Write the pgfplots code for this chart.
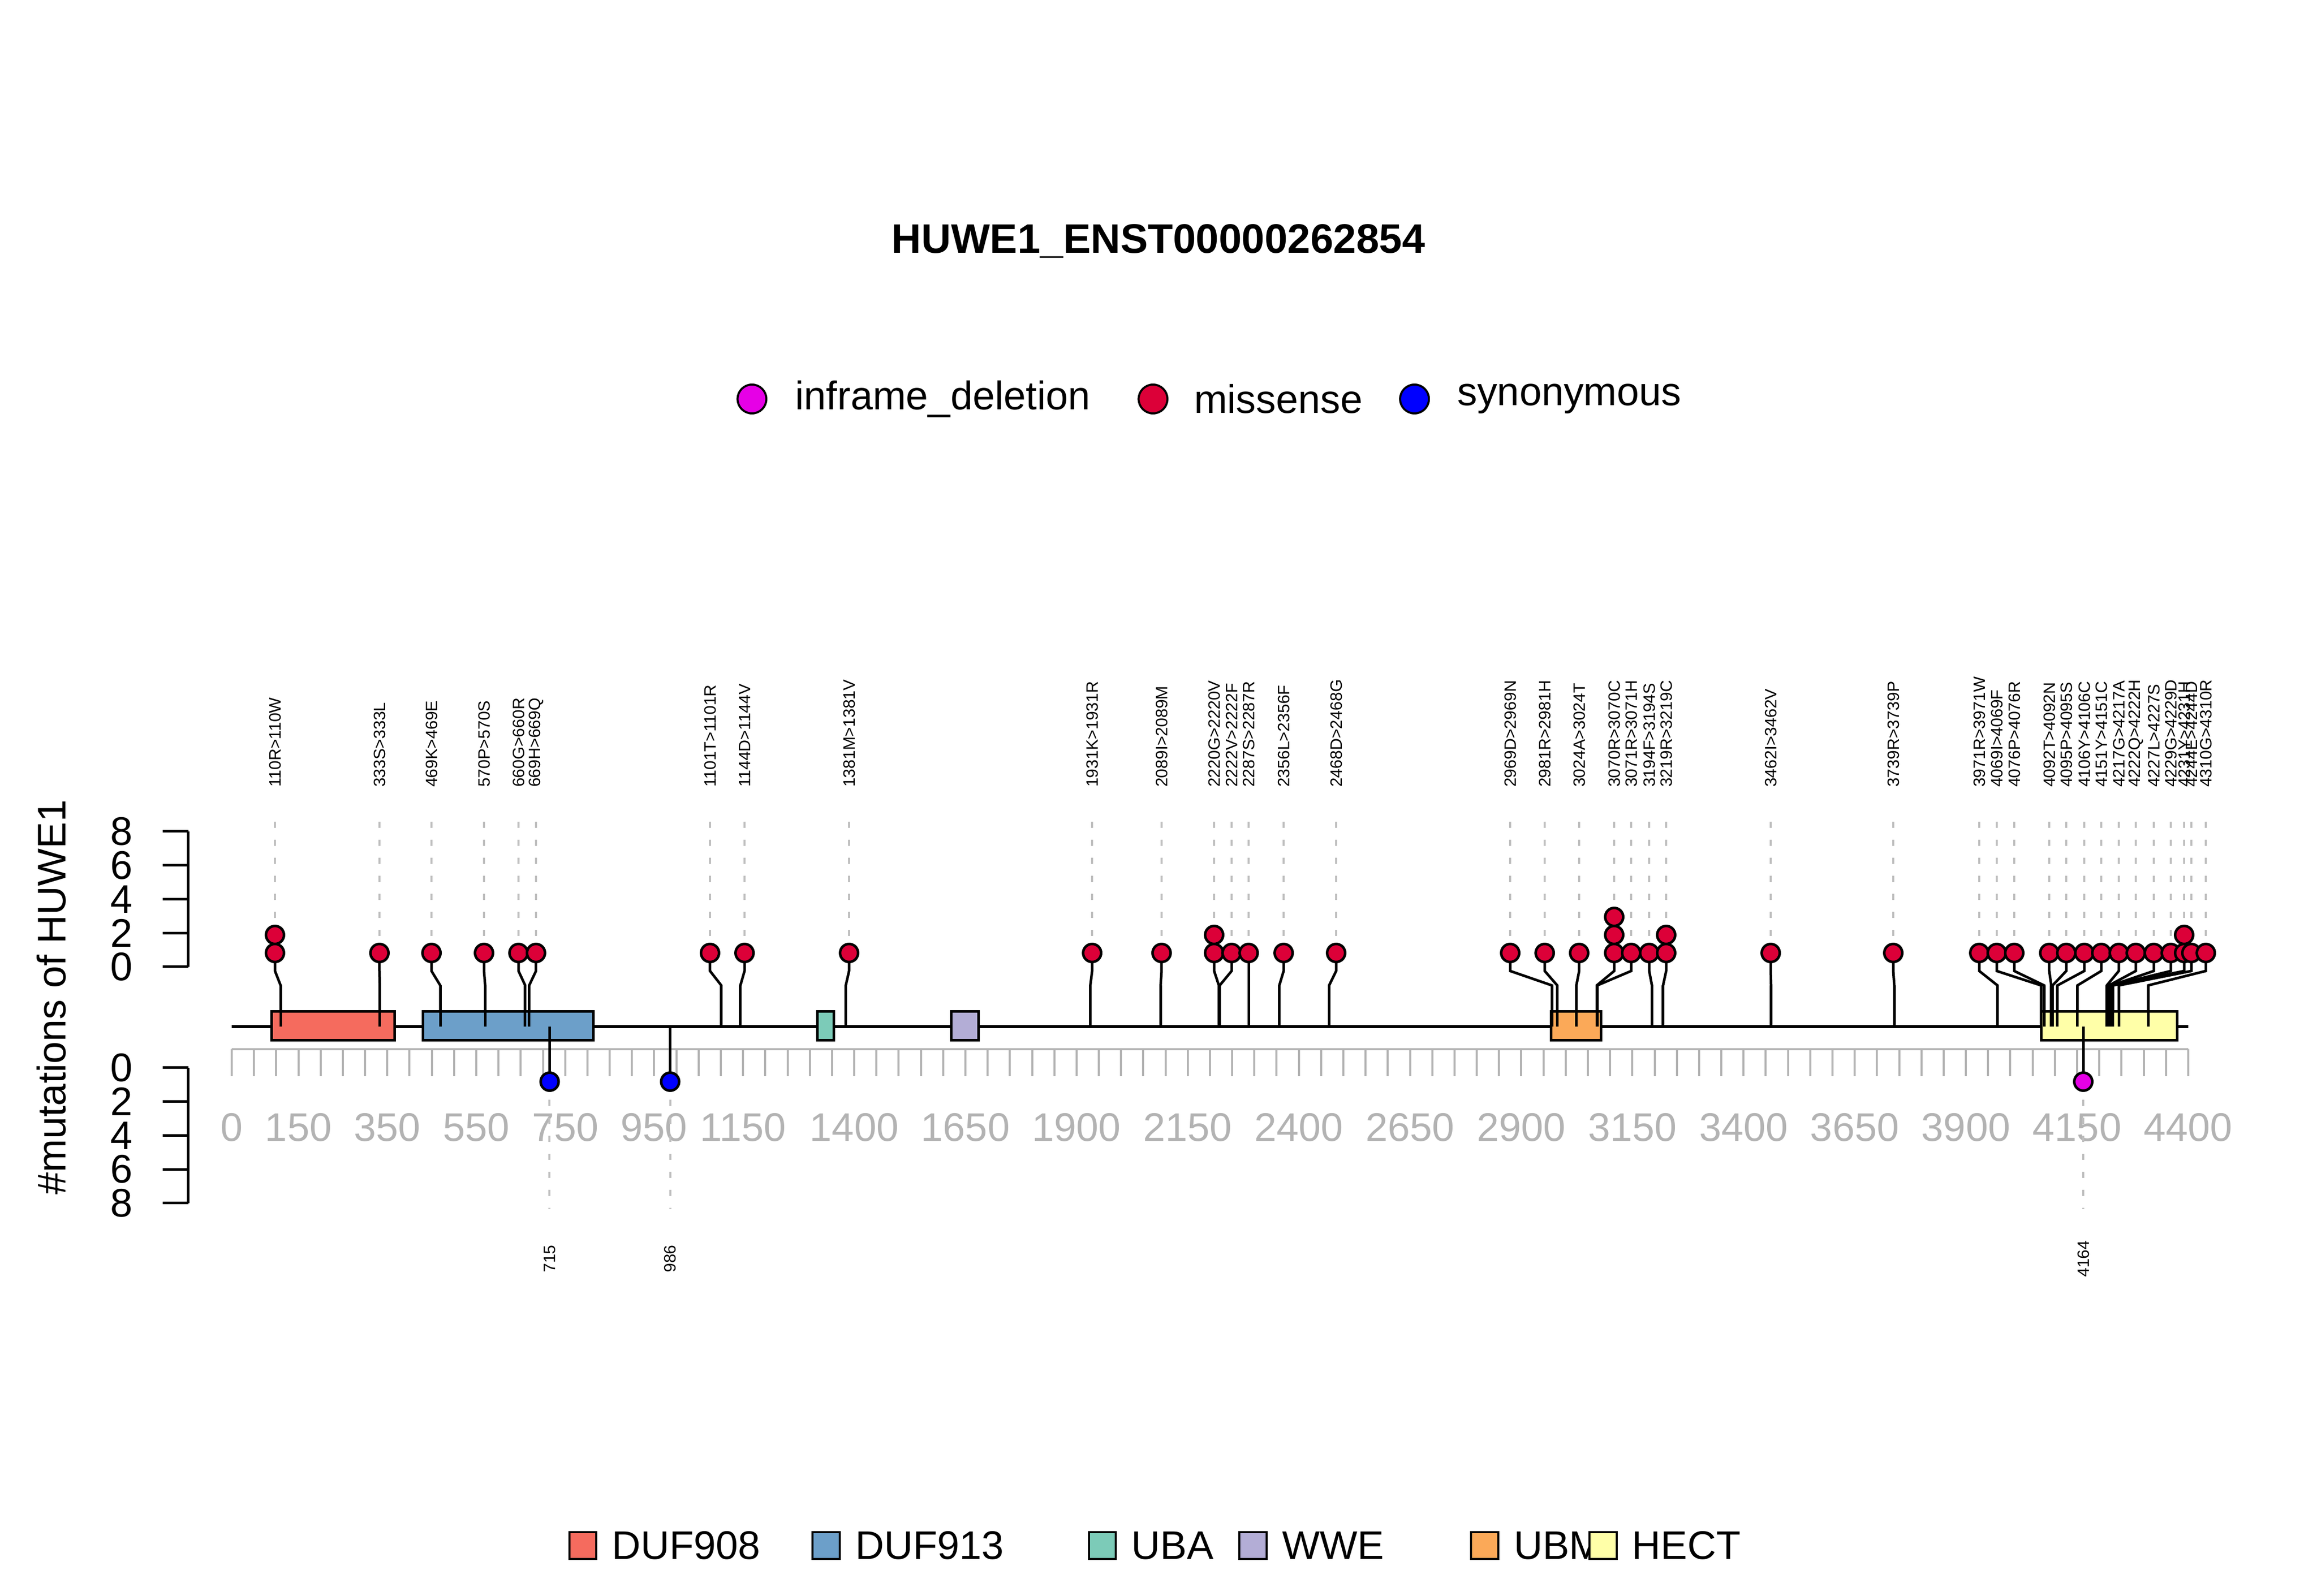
\documentclass[border=0pt]{standalone}
\usepackage{pgfplots}
\pgfplotsset{compat=1.18}
\usepackage{pgfplotstable}
\usepackage{fontspec}
\setmainfont{Liberation Sans}
\definecolor{mis}{HTML}{DC0038}
\definecolor{inf}{HTML}{E600E6}
\definecolor{syn}{HTML}{0000FF}
\definecolor{dA}{HTML}{F56B5E}
\definecolor{dB}{HTML}{6C9FC9}
\definecolor{dC}{HTML}{7CCBB8}
\definecolor{dD}{HTML}{B3ADD6}
\definecolor{dE}{HTML}{FBA958}
\definecolor{dF}{HTML}{FFFFA8}
\definecolor{tk}{HTML}{B3B3B3}
\tikzset{mlab/.style={font=\fontsize{6.4bp}{7bp}\selectfont, rotate=90, anchor=west, inner sep=0pt},
 blab/.style={font=\fontsize{6.4bp}{7bp}\selectfont, rotate=90, anchor=center, inner sep=0pt},
 big/.style={font=\fontsize{15.5bp}{18bp}\selectfont}}
\pgfplotstableread{
pos disp n lbl
110 97.3 2 110R>110W
333 332.3 1 333S>333L
469 449.3 1 469K>469E
570 567.4 1 570P>570S
660 645.0 1 660G>660R
669 684.3 1 669H>669Q
1101 1075.7 1 1101T>1101R
1144 1153.3 1 1144D>1144V
1381 1388.4 1 1381M>1381V
1931 1935.0 1 1931K>1931R
2089 2091.2 1 2089I>2089M
2220 2209.4 2 2220G>2220V
2222 2248.7 1 2222V>2222F
2287 2287.0 1 2287S>2287R
2356 2365.7 1 2356L>2356F
2468 2483.8 1 2468D>2468G
2969 2875.2 1 2969D>2969N
2981 2952.8 1 2981R>2981H
3024 3030.3 1 3024A>3024T
3070 3109.1 3 3070R>3070C
3071 3147.3 1 3071R>3071H
3194 3187.8 1 3194F>3194S
3219 3226.0 2 3219R>3219C
3462 3461.1 1 3462I>3462V
3739 3736.7 1 3739R>3739P
3971 3930.1 1 3971R>3971W
4069 3969.4 1 4069I>4069F
4076 4008.8 1 4076P>4076R
4092 4087.5 1 4092T>4092N
4095 4125.8 1 4095P>4095S
4106 4166.3 1 4106Y>4106C
4151 4204.5 1 4151Y>4151C
4217 4243.9 1 4217G>4217A
4222 4282.1 1 4222Q>4222H
4227 4322.6 1 4227L>4227S
4229 4360.8 1 4229G>4229D
4231 4390.9 2 4231Y>4231H
4244 4407.1 1 4244E>4244D
4310 4439.6 1 4310G>4310R
}\mut
\pgfplotstableread{
x y
97.3 -1851
97.3 -1816
332.3 -1851
449.3 -1851
567.4 -1851
645.0 -1851
684.3 -1851
1075.7 -1851
1153.3 -1851
1388.4 -1851
1935.0 -1851
2091.2 -1851
2209.4 -1851
2209.4 -1816
2248.7 -1851
2287.0 -1851
2365.7 -1851
2483.8 -1851
2875.2 -1851
2952.8 -1851
3030.3 -1851
3109.1 -1851
3109.1 -1816
3109.1 -1781
3147.3 -1851
3187.8 -1851
3226.0 -1851
3226.0 -1816
3461.1 -1851
3736.7 -1851
3930.1 -1851
3969.4 -1851
4008.8 -1851
4087.5 -1851
4125.8 -1851
4166.3 -1851
4204.5 -1851
4243.9 -1851
4282.1 -1851
4322.6 -1851
4360.8 -1851
4390.9 -1851
4390.9 -1816
4407.1 -1851
4439.6 -1851
}\misdots
\pgfplotstableread{
pos cls lbl
715 syn 715
986 syn 986
4164 inf 4164
}\low
\begin{document}
\begin{tikzpicture}
\begin{axis}[hide axis, scale only axis, width=900bp, height=620bp,
 xmin=-521.1, xmax=4689.7, ymin=-3100, ymax=0, clip=false]
% title and top legend
\node[font=\fontsize{16bp}{18bp}\selectfont\bfseries] at (axis cs:2084,-468) {HUWE1\_ENST00000262854};
\addplot[only marks, mark=*, mark size=5.6bp, mark options={fill=inf, draw=black, line width=0.8bp}] coordinates {(1170,-775)};
\addplot[only marks, mark=*, mark size=5.6bp, mark options={fill=mis, draw=black, line width=0.8bp}] coordinates {(2072,-775)};
\addplot[only marks, mark=*, mark size=5.6bp, mark options={fill=syn, draw=black, line width=0.8bp}] coordinates {(2660,-775)};
\node[big, anchor=west] at (axis cs:1247,-775) {inframe\_deletion};
\node[big, anchor=west] at (axis cs:2144,-775) {missense};
\node[big, anchor=west] at (axis cs:2736,-775) {synonymous};
% y axes
\draw[line width=1bp] (axis cs:-97.3,-1615) -- (axis cs:-97.3,-1878);
\draw[line width=1bp] (axis cs:-97.3,-2074) -- (axis cs:-97.3,-2337);
\pgfplotsinvokeforeach{0,2,4,6,8}{
 \draw[line width=1bp] (axis cs:-155.2,-1878+#1*32.875) -- (axis cs:-97.3,-1878+#1*32.875);
 \node[big, anchor=east, inner sep=0pt] at (axis cs:-222,-1878+#1*32.875) {#1};
 \draw[line width=1bp] (axis cs:-155.2,-2074-#1*32.875) -- (axis cs:-97.3,-2074-#1*32.875);
 \node[big, anchor=east, inner sep=0pt] at (axis cs:-222,-2074-#1*32.875) {#1};
}
\node[big, rotate=90] at (axis cs:-405,-1937) {\#mutations of HUWE1};
% ruler
\draw[tk, line width=0.9bp] (axis cs:0,-2038) -- (axis cs:4400,-2038);
\pgfplotsinvokeforeach{0,50,...,4400}{\draw[tk, line width=0.8bp] (axis cs:#1,-2038) -- (axis cs:#1,-2090);}
\pgfplotsinvokeforeach{0,150,350,550,750,950,1150,1400,1650,1900,2150,2400,2650,2900,3150,3400,3650,3900,4150,4400}{
 \node[big, tk, inner sep=0pt] at (axis cs:#1,-2190) {#1};}
% dashed guide lines, stems, labels
\pgfplotstablegetrowsof{\mut}
\pgfmathtruncatemacro\N{\pgfplotsretval-1}
\pgfplotsforeachungrouped \i in {0,...,\N}{
 \pgfplotstablegetelem{\i}{pos}\of\mut \let\p\pgfplotsretval
 \pgfplotstablegetelem{\i}{disp}\of\mut \let\d\pgfplotsretval
 \pgfplotstablegetelem{\i}{lbl}\of\mut \let\l\pgfplotsretval
 \edef\cmd{\noexpand\addplot[black!25, line width=0.8bp, dash pattern=on 2.4bp off 4.6bp] coordinates {(\d,-1596) (\d,-1851)};
  \noexpand\addplot[black, line width=1bp] coordinates {(\d,-1851) (\d,-1886) (\p,-1914) (\p,-1994)};
  \noexpand\node[mlab] at (axis cs:\d,-1530) {\l};}
 \cmd
}
\pgfplotstablegetrowsof{\low}
\pgfmathtruncatemacro\M{\pgfplotsretval-1}
\pgfplotsforeachungrouped \i in {0,...,\M}{
 \pgfplotstablegetelem{\i}{pos}\of\low \let\p\pgfplotsretval
 \edef\cmd{\noexpand\addplot[black!25, line width=0.8bp, dash pattern=on 2.4bp off 4.6bp] coordinates {(\p,-2101) (\p,-2348)};
  \noexpand\addplot[black, line width=1bp] coordinates {(\p,-1994) (\p,-2101)};
  \noexpand\node[blab] at (axis cs:\p,-2445) {\p};}
 \cmd
}
% backbone and domains
\addplot[black, line width=1.1bp] coordinates {(0,-1994) (4400,-1994)};
\addplot[draw=black, fill=dA, line width=1bp] coordinates {(90,-1965) (367,-1965) (367,-2021) (90,-2021)} --cycle;
\addplot[draw=black, fill=dB, line width=1bp] coordinates {(430,-1965) (814,-1965) (814,-2021) (430,-2021)} --cycle;
\addplot[draw=black, fill=dC, line width=1bp] coordinates {(1317,-1965) (1354,-1965) (1354,-2021) (1317,-2021)} --cycle;
\addplot[draw=black, fill=dD, line width=1bp] coordinates {(1618,-1965) (1679,-1965) (1679,-2021) (1618,-2021)} --cycle;
\addplot[draw=black, fill=dE, line width=1bp] coordinates {(2967,-1965) (3080,-1965) (3080,-2021) (2967,-2021)} --cycle;
\addplot[draw=black, fill=dF, line width=1bp] coordinates {(4069,-1965) (4375,-1965) (4375,-2021) (4069,-2021)} --cycle;
% stems over domains
\pgfplotsforeachungrouped \i in {0,...,\N}{
 \pgfplotstablegetelem{\i}{pos}\of\mut \let\p\pgfplotsretval
 \edef\cmd{\noexpand\addplot[black, line width=1bp] coordinates {(\p,-1914) (\p,-1994)};}
 \cmd
}
\addplot[black, line width=1bp] coordinates {(715,-1994) (715,-2021)};
\addplot[black, line width=1bp] coordinates {(4164,-1994) (4164,-2021)};
% dots
\addplot[only marks, mark=*, mark size=3.5bp, mark options={fill=mis, draw=black, line width=1bp}] table[x=x,y=y] {\misdots};
\addplot[only marks, mark=*, mark size=3.5bp, mark options={fill=syn, draw=black, line width=1bp}] coordinates {(715,-2101) (986,-2101)};
\addplot[only marks, mark=*, mark size=3.5bp, mark options={fill=inf, draw=black, line width=1bp}] coordinates {(4164,-2101)};
% domain legend
\node[draw=black, fill=dA, line width=0.8bp, minimum size=10.5bp, inner sep=0pt] at (axis cs:789.5,-3002) {};
\node[big, anchor=west] at (axis cs:834.5,-3002) {DUF908};
\node[draw=black, fill=dB, line width=0.8bp, minimum size=10.5bp, inner sep=0pt] at (axis cs:1337,-3002) {};
\node[big, anchor=west] at (axis cs:1382,-3002) {DUF913};
\node[draw=black, fill=dC, line width=0.8bp, minimum size=10.5bp, inner sep=0pt] at (axis cs:1958,-3002) {};
\node[big, anchor=west] at (axis cs:2003,-3002) {UBA};
\node[draw=black, fill=dD, line width=0.8bp, minimum size=10.5bp, inner sep=0pt] at (axis cs:2297,-3002) {};
\node[big, anchor=west] at (axis cs:2342,-3002) {WWE};
\node[draw=black, fill=dE, line width=0.8bp, minimum size=10.5bp, inner sep=0pt] at (axis cs:2818,-3002) {};
\node[big, anchor=west] at (axis cs:2863,-3002) {UBM};
\node[draw=black, fill=dF, line width=0.8bp, minimum size=10.5bp, inner sep=0pt] at (axis cs:3084,-3002) {};
\node[big, anchor=west] at (axis cs:3129,-3002) {HECT};
\path (rel axis cs:0,0) rectangle (rel axis cs:1,1);
\end{axis}
\end{tikzpicture}
\end{document}
